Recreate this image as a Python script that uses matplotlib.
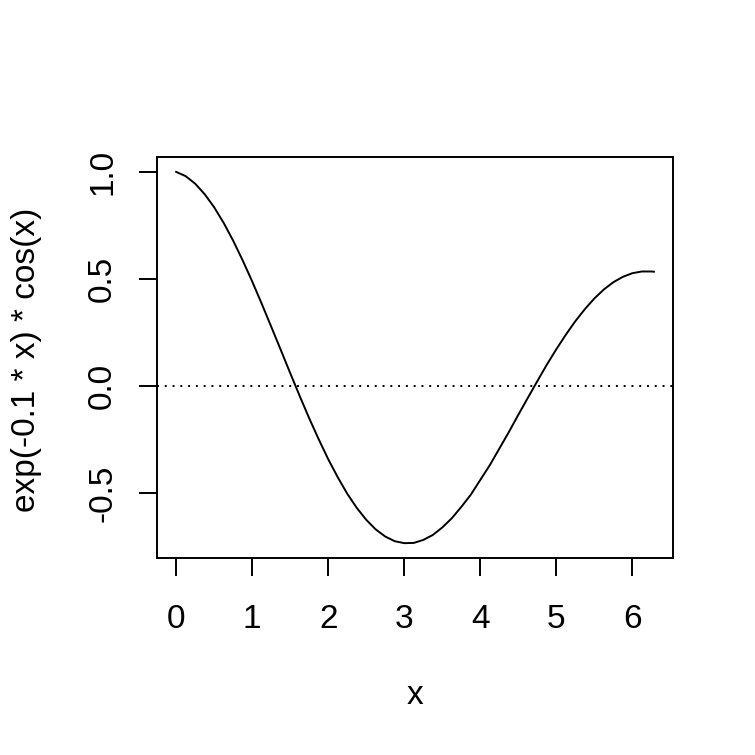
import matplotlib
matplotlib.use("Agg")
import matplotlib.pyplot as plt

plt.rcParams['font.family'] = ['Liberation Sans', 'DejaVu Sans']

x_vals = [0.0, 0.125, 0.25, 0.375, 0.5, 0.625, 0.75, 0.875, 1.0, 1.125, 1.25, 1.375,
          1.5, 1.625, 1.75, 1.875, 2.0, 2.125, 2.25, 2.375, 2.5, 2.625, 2.75, 2.875,
          3.0, 3.125, 3.25, 3.375, 3.5, 3.625, 3.75, 3.875, 4.0, 4.125, 4.25, 4.375,
          4.5, 4.625, 4.75, 4.875, 5.0, 5.125, 5.25, 5.375, 5.5, 5.625, 5.75, 5.875,
          6.0, 6.125, 6.25, 6.283]
y_vals = [1.000, 0.980, 0.945, 0.896, 0.835, 0.762, 0.679, 0.587, 0.489, 0.385,
          0.278, 0.170, 0.061, -0.046, -0.150, -0.248, -0.341, -0.425, -0.502, -0.568,
          -0.624, -0.669, -0.702, -0.724, -0.733, -0.732, -0.718, -0.695, -0.660,
          -0.617, -0.564, -0.507, -0.438, -0.369, -0.292, -0.215, -0.134, -0.055,
          0.023, 0.100, 0.172, 0.240, 0.303, 0.359, 0.409, 0.451, 0.485, 0.510,
          0.527, 0.535, 0.535, 0.534]
x_ticks = [0, 1, 2, 3, 4, 5, 6]
y_ticks = [-0.5, 0.0, 0.5, 1.0]
y_tick_labels = ["-0.5", "0.0", "0.5", "1.0"]
x_label = "x"
y_label = "exp(-0.1 * x) * cos(x)"

fig = plt.figure(figsize=(7.55, 7.55), dpi=100)
L, R, T, B = 157, 673, 157, 558
ax = fig.add_axes([L / 755, 1 - B / 755, (R - L) / 755, (B - T) / 755])

ax.plot(x_vals, y_vals, color='black', lw=1.4)
ax.axhline(0, color='black', lw=1.4, linestyle=(0, (1, 3)))

xr = x_vals[-1] - x_vals[0]
yr = max(y_vals) - min(y_vals)
ax.set_xlim(x_vals[0] - 0.04 * xr, x_vals[-1] + 0.04 * xr)
ax.set_ylim(min(y_vals) - 0.04 * yr, max(y_vals) + 0.04 * yr)

for s in ax.spines.values():
    s.set_linewidth(1.4)

fs = 24
ax.set_xticks(x_ticks)
ax.set_xticklabels([str(t) for t in x_ticks])
ax.set_yticks(y_ticks)
ax.set_yticklabels(y_tick_labels, rotation=90, va='center')
ax.tick_params(axis='both', direction='out', length=13, width=1.4, labelsize=fs)
ax.tick_params(axis='x', pad=20)
ax.tick_params(axis='y', pad=15)

fig.text(415 / 755, 1 - 695 / 755, x_label, ha='center', va='center', fontsize=fs)
fig.text(27 / 755, 1 - 360 / 755, y_label, ha='center', va='center', rotation=90, fontsize=fs)

fig.savefig("out.png", dpi=100, facecolor='white')
